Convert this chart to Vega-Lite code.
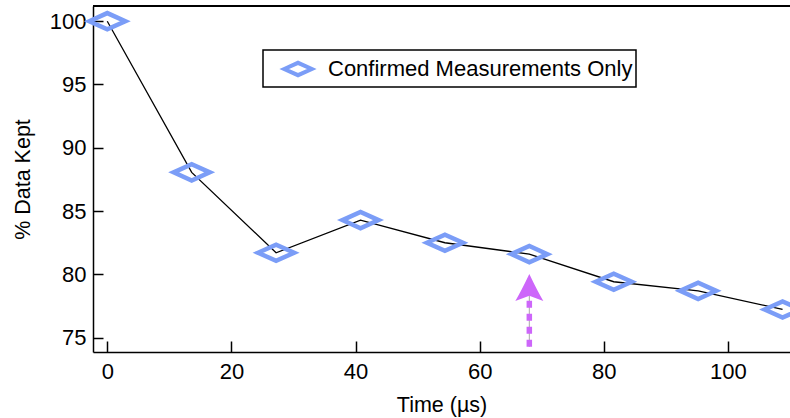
{
  "$schema": "https://vega.github.io/schema/vega-lite/v6.json",
  "autosize": "none",
  "width": 697,
  "height": 346,
  "padding": {"left": 93, "top": 6, "right": 0, "bottom": 66},
  "background": "white",
  "config": {
    "view": {"stroke": null},
    "font": "Liberation Sans",
    "axis": {
      "grid": false,
      "domainColor": "black",
      "domainWidth": 1.5,
      "tickColor": "black",
      "tickWidth": 1.5,
      "labelColor": "black",
      "titleColor": "black",
      "labelFont": "Liberation Sans",
      "titleFont": "Liberation Sans",
      "labelFontSize": 22,
      "titleFontSize": 21.5,
      "titleFontWeight": "normal"
    },
    "legend": {
      "orient": "none",
      "legendX": 170,
      "legendY": 44,
      "strokeColor": "black",
      "strokeWidth": 1.5,
      "padding": 3,
      "symbolOffset": 16,
      "labelOffset": 14,
      "symbolSize": 756,
      "symbolStrokeWidth": 4,
      "symbolType": "M-1,0L0,-0.45L1,0L0,0.45Z",
      "labelFont": "Liberation Sans",
      "labelFontSize": 22,
      "labelColor": "black",
      "labelLimit": 0
    }
  },
  "datasets": {
    "main": [
      {"t": 0, "v": 100, "series": "Confirmed Measurements Only"},
      {"t": 13.6, "v": 88.06, "series": "Confirmed Measurements Only"},
      {"t": 27.2, "v": 81.71, "series": "Confirmed Measurements Only"},
      {"t": 40.8, "v": 84.29, "series": "Confirmed Measurements Only"},
      {"t": 54.4, "v": 82.5, "series": "Confirmed Measurements Only"},
      {"t": 68, "v": 81.6, "series": "Confirmed Measurements Only"},
      {"t": 81.6, "v": 79.42, "series": "Confirmed Measurements Only"},
      {"t": 95.2, "v": 78.7, "series": "Confirmed Measurements Only"},
      {"t": 108.8, "v": 77.23, "series": "Confirmed Measurements Only"}
    ],
    "arrow": [
      {"t": 68, "v": 74.28, "v2": 78.36, "head": 78.92}
    ]
  },
  "layer": [
    {
      "data": {"name": "main"},
      "mark": {"type": "rule", "color": "black", "strokeWidth": 1.5},
      "encoding": {
        "y": {"datum": 101.2, "type": "quantitative", "scale": {"domain": [73.87, 101.2], "nice": false, "zero": false}, "title": "% Data Kept"}
      }
    },
    {
      "data": {"name": "main"},
      "mark": {"type": "line", "color": "black", "strokeWidth": 1.3},
      "encoding": {
        "x": {"field": "t", "type": "quantitative", "scale": {"domain": [-2.3, 110], "nice": false, "zero": false},
              "title": "Time (µs)",
              "axis": {"values": [0, 20, 40, 60, 80, 100], "tickSize": -11, "labelPadding": 20, "titlePadding": 12}},
        "y": {"field": "v", "type": "quantitative", "scale": {"domain": [73.87, 101.2], "nice": false, "zero": false},
              "title": "% Data Kept",
              "axis": {"values": [75, 80, 85, 90, 95, 100], "tickSize": -10, "labelPadding": 17, "titlePadding": 15}}
      }
    },
    {
      "data": {"name": "main"},
      "mark": {"type": "point", "shape": "M-1,0L0,-0.45L1,0L0,0.45Z", "filled": false, "strokeWidth": 4.5, "size": 1300, "opacity": 1},
      "encoding": {
        "x": {"field": "t", "type": "quantitative", "title": "Time (µs)"},
        "y": {"field": "v", "type": "quantitative", "title": "% Data Kept"},
        "stroke": {"field": "series", "type": "nominal", "scale": {"range": ["#7b9df7"]}, "legend": {"title": null}}
      }
    },
    {
      "data": {"name": "arrow"},
      "mark": {"type": "rule", "color": "#aaaaaa", "strokeWidth": 1},
      "encoding": {
        "x": {"field": "t", "type": "quantitative", "title": "Time (µs)"},
        "y": {"field": "v", "type": "quantitative", "title": "% Data Kept"},
        "y2": {"field": "v2"}
      }
    },
    {
      "data": {"name": "arrow"},
      "mark": {"type": "rule", "color": "#cd66fa", "strokeWidth": 5.5, "strokeDash": [7, 6]},
      "encoding": {
        "x": {"field": "t", "type": "quantitative", "title": "Time (µs)"},
        "y": {"field": "v", "type": "quantitative", "title": "% Data Kept"},
        "y2": {"field": "v2"}
      }
    },
    {
      "data": {"name": "arrow"},
      "mark": {"type": "point", "shape": "M0,-1Q0.62,0.3 1,0.92L0,0.54L-1,0.92Q-0.62,0.3 0,-1Z", "filled": true, "color": "#cd66fa", "size": 784, "opacity": 1, "strokeWidth": 0},
      "encoding": {
        "x": {"field": "t", "type": "quantitative", "title": "Time (µs)"},
        "y": {"field": "head", "type": "quantitative", "title": "% Data Kept"}
      }
    }
  ]
}
